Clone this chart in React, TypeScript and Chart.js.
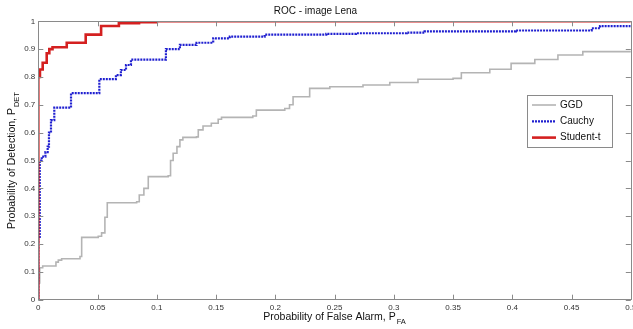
import React, { useEffect, useRef } from "react";
import { Chart, registerables } from "chart.js";

Chart.register(...registerables);

const chartTitle = "ROC - image Lena";
const xTitleMain = "Probability of False Alarm, P";
const xTitleSub = "FA";
const yTitleMain = "Probability of Detection, P";
const yTitleSub = "DET";

const xTickValues = [0, 0.05, 0.1, 0.15, 0.2, 0.25, 0.3, 0.35, 0.4, 0.45, 0.5];
const xTickLabels = ["0", "0.05", "0.1", "0.15", "0.2", "0.25", "0.3", "0.35", "0.4", "0.45", "0.5"];
const yTickValues = [0, 0.1, 0.2, 0.3, 0.4, 0.5, 0.6, 0.7, 0.8, 0.9, 1];
const yTickLabels = ["0", "0.1", "0.2", "0.3", "0.4", "0.5", "0.6", "0.7", "0.8", "0.9", "1"];

const seriesNames = ["GGD", "Cauchy", "Student-t"];

const ggdFA = [0, 0, 0.0012, 0.0037, 0.0149, 0.0169, 0.0197, 0.0352, 0.0366, 0.0506, 0.0534, 0.0562, 0.0582, 0.083, 0.0852, 0.0891, 0.0928, 0.1096, 0.1116, 0.1138, 0.117, 0.1195, 0.122, 0.1335, 0.135, 0.139, 0.146, 0.1518, 0.1546, 0.181, 0.184, 0.208, 0.212, 0.215, 0.229, 0.246, 0.274, 0.2966, 0.3204, 0.35, 0.357, 0.381, 0.399, 0.419, 0.4385, 0.4595, 0.5];
const ggdDET = [0, 0.06, 0.115, 0.121, 0.135, 0.142, 0.147, 0.155, 0.224, 0.228, 0.24, 0.296, 0.348, 0.352, 0.376, 0.4, 0.442, 0.445, 0.5, 0.526, 0.55, 0.574, 0.583, 0.585, 0.61, 0.624, 0.634, 0.648, 0.655, 0.66, 0.681, 0.687, 0.7, 0.729, 0.759, 0.765, 0.771, 0.78, 0.792, 0.795, 0.815, 0.828, 0.849, 0.863, 0.879, 0.891, 0.894];

const cauchyFA = [0, 0, 0.0012, 0.0029, 0.006, 0.0079, 0.009, 0.0107, 0.0135, 0.0276, 0.0515, 0.0655, 0.0697, 0.074, 0.0782, 0.1077, 0.1195, 0.1335, 0.1476, 0.1616, 0.191, 0.243, 0.268, 0.311, 0.326, 0.403, 0.467, 0.474, 0.5];
const cauchyDET = [0, 0.22, 0.5, 0.514, 0.53, 0.55, 0.6, 0.645, 0.69, 0.742, 0.792, 0.807, 0.825, 0.843, 0.862, 0.9, 0.915, 0.923, 0.939, 0.945, 0.952, 0.955, 0.957, 0.959, 0.964, 0.967, 0.975, 0.983, 0.984];

const studentFA = [0, 0, 0.0014, 0.0037, 0.0071, 0.0093, 0.012, 0.024, 0.04, 0.053, 0.068, 0.085, 0.1, 0.5];
const studentDET = [0, 0.8, 0.827, 0.851, 0.885, 0.9, 0.907, 0.923, 0.952, 0.983, 0.993, 0.997, 1, 1];

const toPoints = (xs: number[], ys: number[]) => xs.map((x, i) => ({ x, y: ys[i] }));

const FONT = "'Liberation Sans', Arial, Helvetica, sans-serif";
const AXIS_COLOR = "#8a8a8a";

const decorPlugin = {
  id: "matlabDecor",
  afterDatasetsDraw(chart: any) {
    const { ctx, chartArea } = chart;
    const { left, right, top, bottom } = chartArea;
    const xs = chart.scales.x;
    const ys = chart.scales.y;
    ctx.save();
    // box
    ctx.strokeStyle = AXIS_COLOR;
    ctx.lineWidth = 1;
    ctx.beginPath();
    ctx.rect(Math.round(left) + 0.5, Math.round(top) + 0.5, Math.round(right - left), Math.round(bottom - top));
    ctx.stroke();
    // inward ticks
    const tl = 5;
    ctx.beginPath();
    xTickValues.forEach((v) => {
      const px = Math.round(xs.getPixelForValue(v)) + 0.5;
      ctx.moveTo(px, bottom);
      ctx.lineTo(px, bottom - tl);
      ctx.moveTo(px, top);
      ctx.lineTo(px, top + tl);
    });
    yTickValues.forEach((v) => {
      const py = Math.round(ys.getPixelForValue(v)) + 0.5;
      ctx.moveTo(left, py);
      ctx.lineTo(left + tl, py);
      ctx.moveTo(right, py);
      ctx.lineTo(right - tl, py);
    });
    ctx.stroke();

    // legend
    const lw = 85;
    const lh = 52;
    const lx = right - 18.8 - lw;
    const ly = top + 73.7;
    ctx.fillStyle = "#ffffff";
    ctx.fillRect(lx, ly, lw, lh);
    ctx.strokeStyle = AXIS_COLOR;
    ctx.lineWidth = 1;
    ctx.strokeRect(Math.round(lx) + 0.5, Math.round(ly) + 0.5, lw, lh);
    ctx.font = `10px ${FONT}`;
    ctx.textBaseline = "middle";
    ctx.textAlign = "left";
    chart.data.datasets.forEach((ds: any, i: number) => {
      const ey = ly + 10 + i * 16.3;
      ctx.save();
      ctx.strokeStyle = ds.borderColor;
      ctx.lineWidth = ds.borderWidth;
      ctx.setLineDash(ds.borderDash || []);
      ctx.beginPath();
      ctx.moveTo(lx + 5, ey);
      ctx.lineTo(lx + 29, ey);
      ctx.stroke();
      ctx.restore();
      ctx.fillStyle = "#111";
      ctx.fillText(ds.label, lx + 33, ey);
    });

    // x axis title with subscript
    ctx.fillStyle = "#111";
    const mainFont = `10.5px ${FONT}`;
    const subFont = `7.5px ${FONT}`;
    ctx.font = mainFont;
    const wMain = ctx.measureText(xTitleMain).width;
    ctx.font = subFont;
    const wSub = ctx.measureText(xTitleSub).width;
    const cx = (left + right) / 2;
    const x0 = cx - (wMain + wSub + 1) / 2;
    ctx.textAlign = "left";
    ctx.textBaseline = "middle";
    ctx.font = mainFont;
    ctx.fillText(xTitleMain, x0, bottom + 17);
    ctx.font = subFont;
    ctx.fillText(xTitleSub, x0 + wMain + 1, bottom + 22);

    // y axis title with subscript (rotated)
    ctx.save();
    ctx.translate(12.5, (top + bottom) / 2);
    ctx.rotate(-Math.PI / 2);
    ctx.font = mainFont;
    const wyMain = ctx.measureText(yTitleMain).width;
    ctx.font = subFont;
    const wySub = ctx.measureText(yTitleSub).width;
    const y0 = -(wyMain + wySub + 1) / 2;
    ctx.font = mainFont;
    ctx.fillText(yTitleMain, y0, 0);
    ctx.font = subFont;
    ctx.fillText(yTitleSub, y0 + wyMain + 1, 4.5);
    ctx.restore();

    ctx.restore();
  },
};

export default function App() {
  const canvasRef = useRef<HTMLCanvasElement | null>(null);

  useEffect(() => {
    document.body.style.margin = "0";
    const canvas = canvasRef.current;
    if (!canvas) return;
    const chart = new Chart(canvas, {
      type: "line",
      data: {
        datasets: [
          {
            label: seriesNames[0],
            data: toPoints(ggdFA, ggdDET),
            borderColor: "#b4b4b4",
            borderWidth: 1.6,
            stepped: true,
            pointRadius: 0,
            fill: false,
            order: 3,
          },
          {
            label: seriesNames[1],
            data: toPoints(cauchyFA, cauchyDET),
            borderColor: "#2020d0",
            borderWidth: 2.2,
            borderDash: [2, 1],
            stepped: true,
            pointRadius: 0,
            fill: false,
            order: 2,
          },
          {
            label: seriesNames[2],
            data: toPoints(studentFA, studentDET),
            borderColor: "#d42020",
            borderWidth: 2.6,
            stepped: true,
            pointRadius: 0,
            fill: false,
            order: 1,
          },
        ],
      },
      options: {
        animation: false,
        responsive: false,
        layout: { padding: { left: 0, right: 2.2, top: 0, bottom: 0 } },
        plugins: {
          legend: { display: false },
          tooltip: { enabled: false },
          title: {
            display: true,
            text: chartTitle,
            color: "#111",
            font: { family: FONT, size: 10, weight: "normal" },
            padding: { top: 5.5, bottom: 3.8 },
          },
        },
        scales: {
          x: {
            type: "linear",
            min: 0,
            max: 0.5,
            afterBuildTicks: (scale: any) => {
              scale.ticks = xTickValues.map((v) => ({ value: v }));
            },
            afterFit: (scale: any) => {
              scale.height = 29.3;
              scale.paddingRight = 0;
            },
            ticks: {
              autoSkip: false,
              maxRotation: 0,
              padding: 3,
              color: "#333",
              font: { family: FONT, size: 8 },
              callback: (v: any) => {
                const i = xTickValues.findIndex((t) => Math.abs(t - v) < 1e-9);
                return i >= 0 ? xTickLabels[i] : "";
              },
            },
            grid: { display: false, drawTicks: false },
            border: { display: false },
          },
          y: {
            type: "linear",
            min: 0,
            max: 1,
            afterBuildTicks: (scale: any) => {
              scale.ticks = yTickValues.map((v) => ({ value: v }));
            },
            afterFit: (scale: any) => {
              scale.width = 38.3;
            },
            ticks: {
              autoSkip: false,
              padding: 3,
              color: "#333",
              font: { family: FONT, size: 8 },
              callback: (v: any) => {
                const i = yTickValues.findIndex((t) => Math.abs(t - v) < 1e-9);
                return i >= 0 ? yTickLabels[i] : "";
              },
            },
            grid: { display: false, drawTicks: false },
            border: { display: false },
          },
        },
      },
      plugins: [decorPlugin],
    } as any);
    return () => chart.destroy();
  }, []);

  return (
    <div style={{ width: 633, height: 329, background: "#fff" }}>
      <canvas ref={canvasRef} width={633} height={329} style={{ display: "block", width: 633, height: 329 }} />
    </div>
  );
}
